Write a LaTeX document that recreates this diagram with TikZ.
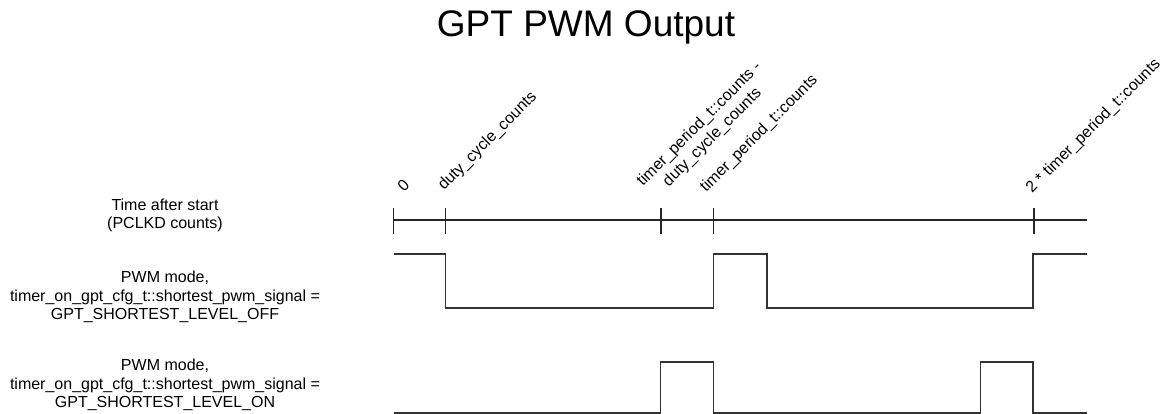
\documentclass[tikz,border=0pt]{standalone}
\usepackage{fontspec}
\setmainfont{Liberation Sans}
\begin{document}
\begin{tikzpicture}[x=1pt,y=-1pt,
  sig/.style={line width=1.3pt, draw=black!80, line join=miter},
  axisline/.style={line width=1.2pt, draw=black!85},
  lbl/.style={font=\fontsize{16}{18.5}\selectfont, align=center, inner sep=0pt},
  tlbl/.style={font=\fontsize{16}{18.5}\selectfont, rotate=45, align=center, inner sep=0pt}]
\useasboundingbox (0,0) rectangle (1169,414);

% title
\node[font=\fontsize{37}{40}\selectfont, anchor=base, inner sep=0pt] (title) at (586,37) {GPT PWM Output};

% row labels
\node[lbl] (tlab) at (165,215.5) {Time after start\\(PCLKD counts)};
\node[lbl] (s1lab) at (165,297) {PWM mode,\\timer\_on\_gpt\_cfg\_t::shortest\_pwm\_signal =\\GPT\_SHORTEST\_LEVEL\_OFF};
\node[lbl] (s2lab) at (165,385) {PWM mode,\\timer\_on\_gpt\_cfg\_t::shortest\_pwm\_signal =\\GPT\_SHORTEST\_LEVEL\_ON};

% time axis
\coordinate (a0) at (393.5,220);
\coordinate (a1) at (445.5,220);
\coordinate (a2) at (661,220);
\coordinate (a3) at (713.5,220);
\coordinate (a4) at (1034,220);
\coordinate (aend) at (1087,220);
\draw[axisline] (a0) -- (aend);
\foreach \t in {a0,a1,a2,a3,a4}
  \draw[axisline] ([yshift=-14pt]\t) -- ([yshift=12pt]\t);

% tick labels
\node[tlbl, anchor=base west] (l0) at (404,193) {0};
\node[tlbl, anchor=base west] (l1) at (444,191) {duty\_cycle\_counts};
\node[tlbl] (l2) at (706,131) {timer\_period\_t::counts -\\duty\_cycle\_counts};
\node[tlbl, anchor=base west] (l3) at (706,193) {timer\_period\_t::counts};
\node[tlbl, anchor=base west] (l4) at (1032,194) {2 * timer\_period\_t::counts};

% signal 1 (shortest level off)
\draw[sig] (393.5,254) -- (445.5,254) -- (445.5,308) -- (713.5,308) -- (713.5,254)
  -- (767,254) -- (767,308) -- (1033,308) -- (1033,254) -- (1087,254);

% signal 2 (shortest level on)
\draw[sig] (393.5,413) -- (660.5,413) -- (660.5,362) -- (713.5,362) -- (713.5,413)
  -- (980.5,413) -- (980.5,362) -- (1033,362) -- (1033,413) -- (1087,413);
\end{tikzpicture}
\end{document}
